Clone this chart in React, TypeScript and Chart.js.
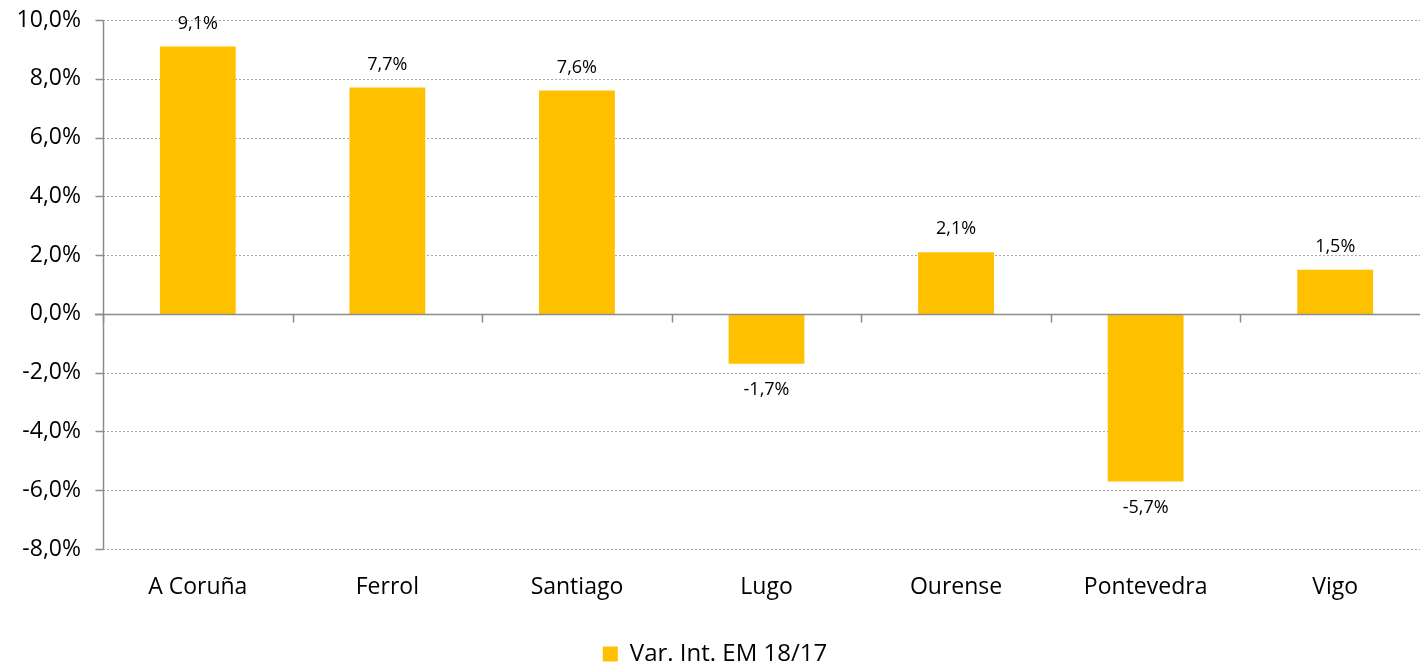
import React, { useEffect, useRef } from "react";
import { Chart, registerables } from "chart.js";

Chart.register(...registerables);

const categories: string[] = ["A Coruña", "Ferrol", "Santiago", "Lugo", "Ourense", "Pontevedra", "Vigo"];
const values: number[] = [9.1, 7.7, 7.6, -1.7, 2.1, -5.7, 1.5];
const seriesLabel = "Var. Int. EM 18/17";
const yMin = -8;
const yMax = 10;
const yStep = 2;

const FONT = "'Open Sans', Lato, sans-serif";
const BAR = "#FFC000";
const AXIS = "#8C8C8C";
const GRID = "#A6A6A6";

const fmt = (v: number) => v.toFixed(1).replace(".", ",") + "%";

const drawPlugin = {
  id: "customDraw",
  beforeDatasetsDraw(chart: any) {
    const { ctx, chartArea, scales } = chart;
    const y = scales.y;
    ctx.save();
    ctx.strokeStyle = GRID;
    ctx.lineWidth = 1;
    ctx.setLineDash([2, 2]);
    y.ticks.forEach((t: any) => {
      if (t.value === 0) return;
      const py = Math.round(y.getPixelForValue(t.value)) + 0.5;
      ctx.beginPath();
      ctx.moveTo(chartArea.left, py);
      ctx.lineTo(chartArea.right, py);
      ctx.stroke();
    });
    ctx.setLineDash([]);
    ctx.strokeStyle = AXIS;
    ctx.lineWidth = 1.5;
    const ax = Math.round(chartArea.left) + 0.5;
    ctx.beginPath();
    ctx.moveTo(ax, chartArea.top);
    ctx.lineTo(ax, chartArea.bottom);
    ctx.stroke();
    y.ticks.forEach((t: any) => {
      const py = Math.round(y.getPixelForValue(t.value)) + 0.5;
      ctx.beginPath();
      ctx.moveTo(ax - 8, py);
      ctx.lineTo(ax, py);
      ctx.stroke();
    });
    ctx.restore();
  },
  afterDatasetsDraw(chart: any) {
    const { ctx, chartArea, scales } = chart;
    const y = scales.y;
    const x = scales.x;
    ctx.save();
    const zy = Math.round(y.getPixelForValue(0)) + 0.5;
    ctx.strokeStyle = AXIS;
    ctx.lineWidth = 1.5;
    ctx.beginPath();
    ctx.moveTo(chartArea.left - 8, zy);
    ctx.lineTo(chartArea.right, zy);
    ctx.stroke();
    const n = categories.length;
    const cw = (chartArea.right - chartArea.left) / n;
    for (let i = 0; i <= n; i++) {
      const px = Math.round(x.getPixelForValue(i) - cw / 2) + 0.5;
      ctx.beginPath();
      ctx.moveTo(px, zy);
      ctx.lineTo(px, zy + 8);
      ctx.stroke();
    }
    ctx.fillStyle = "#000";
    ctx.font = `18px ${FONT}`;
    ctx.textAlign = "center";
    ctx.textBaseline = "middle";
    const meta = chart.getDatasetMeta(0);
    meta.data.forEach((bar: any, i: number) => {
      const v = values[i];
      const py = v >= 0 ? bar.y - 23 : bar.y + 26;
      ctx.fillText(fmt(v), bar.x, py);
    });
    ctx.restore();
  },
};

export default function App() {
  const ref = useRef<HTMLCanvasElement | null>(null);
  useEffect(() => {
    if (!ref.current) return;
    const chart = new Chart(ref.current, {
      type: "bar",
      data: {
        labels: categories,
        datasets: [
          {
            label: seriesLabel,
            data: values,
            backgroundColor: BAR,
            borderWidth: 0,
            barPercentage: 0.4,
            categoryPercentage: 1,
          },
        ],
      },
      options: {
        animation: false,
        responsive: true,
        maintainAspectRatio: false,
        layout: { padding: { top: 20, left: 0, right: 2, bottom: 0 } },
        plugins: {
          tooltip: { enabled: false },
          legend: {
            position: "bottom",
            labels: {
              color: "#000",
              font: { family: FONT, size: 24 },
              boxWidth: 15,
              boxHeight: 15,
              padding: 5,
            },
          },
        },
        scales: {
          x: {
            grid: { display: false },
            border: { display: false },
            ticks: { color: "#000", font: { family: FONT, size: 23 }, padding: 17 },
            afterFit: (s: any) => {
              s.height = 88;
            },
          },
          y: {
            min: yMin,
            max: yMax,
            grid: { display: false },
            border: { display: false },
            ticks: {
              stepSize: yStep,
              color: "#000",
              font: { family: FONT, size: 23 },
              padding: 14,
              callback: (v: any) => fmt(Number(v)),
            },
            afterFit: (s: any) => {
              s.width = 103;
              s.paddingTop = 0;
              s.paddingBottom = 0;
            },
          },
        },
      },
      plugins: [drawPlugin],
    });
    return () => chart.destroy();
  }, []);
  return (
    <div style={{ position: "fixed", left: 0, top: 0, width: 1420, height: 665, overflow: "hidden", background: "#fff" }}>
      <div style={{ position: "relative", width: 1432, height: 676 }}>
        <canvas ref={ref} />
      </div>
    </div>
  );
}
